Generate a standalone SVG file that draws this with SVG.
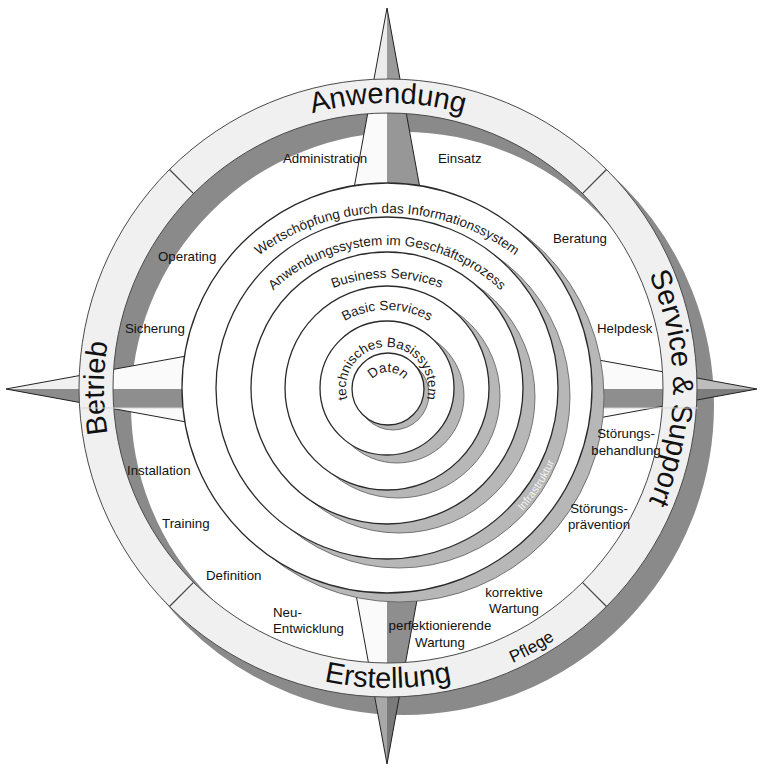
<svg xmlns="http://www.w3.org/2000/svg" width="761" height="768" viewBox="0 0 761 768">
<style>
.lbl{font-family:"Liberation Sans",Arial,sans-serif;font-size:13.3px;fill:#111}
.ring{font-family:"Liberation Sans",Arial,sans-serif;font-size:29px;fill:#111}
.arc{font-family:"Liberation Sans",Arial,sans-serif;font-size:13.5px;fill:#1a1a1a}
.circ{fill:#fff;stroke:#2a2a2a;stroke-width:1.3}
.shd{fill:#b7b7b7;stroke:#5a5a5a;stroke-width:0.8}
.edge{fill:none;stroke:#222;stroke-width:1}
</style>
<defs>
<clipPath id="upper"><rect x="0" y="0" width="761" height="408"/></clipPath>
<clipPath id="outside"><path clip-rule="evenodd" d="M0 0H761V768H0Z M88 388A300 300 0 1 0 688 388A300 300 0 1 0 88 388Z"/></clipPath>
<path id="pAnw" d="M123.95 291.89A279 279 0 0 1 652.05 291.89"/>
<path id="pSvc" d="M484.11 123.95A279 279 0 0 1 484.11 652.05"/>
<path id="pBet" d="M290.9 654.9A284 284 0 0 1 290.9 121.1"/>
<path id="pErs" d="M106.1 490.6A300 300 0 0 0 669.9 490.6"/>
<path id="pPfl" d="M388 690A302 302 0 0 0 644.1 548"/>
<path id="c1" d="M223.1 289.4A214 214 0 0 1 550.9 289.4"/>
<path id="c2" d="M251.8 315.4A165 165 0 0 1 522.2 315.4"/>
<path id="c3" d="M300.4 305.3A151 151 0 0 1 473.6 305.3"/>
<path id="c4" d="M325.5 335.5A87 87 0 0 1 448.5 335.5"/>
<path id="c5" d="M348.5 402A41 41 0 1 1 425.5 402"/>
<path id="c6" d="M368.3 385.8A21 21 0 0 1 407.7 385.8"/>
<path id="cInf" d="M478.5 546.5A183 183 0 0 0 569 407.1"/>
</defs>
<rect width="761" height="768" fill="#fff"/>
<g id="ring-shadow">
<circle cx="404" cy="405" r="291.5" fill="none" stroke="#8a8a8a" stroke-width="37"/>
</g>
<g id="compass">
<g id="arms-inner">
<polygon points="387,8 387,389 317.3,389" fill="#fafafa"/>
<polygon points="387,8 387,389 456.7,389" fill="#979797"/>
<polygon points="387,764 387,389 318.4,389" fill="#fafafa"/>
<polygon points="387,764 387,389 455.6,389" fill="#8e8e8e"/>
<polygon points="6,389 387,389 387,319.3" fill="#fafafa"/>
<polygon points="6,389 387,389 387,458.7" fill="#fafafa"/>
<polygon points="6,389 387,389 387,458.7" fill="#8e8e8e" clip-path="url(#upper)"/>
<polygon points="757,389 387,389 387,321.3" fill="#fafafa"/>
<polygon points="757,389 387,389 387,456.7" fill="#fafafa"/>
<polygon points="757,389 387,389 387,456.7" fill="#8e8e8e" clip-path="url(#upper)"/>
</g>
<g id="arms-outer" clip-path="url(#outside)">
<polygon points="387,8 387,389 317.3,389" fill="#ececec"/>
<polygon points="387,8 387,389 456.7,389" fill="#9a9a9a"/>
<polygon points="387,764 387,389 318.4,389" fill="#a8a8a8"/>
<polygon points="387,764 387,389 455.6,389" fill="#7a7a7a"/>
<polygon points="6,389 387,389 387,319.3" fill="#f0f0f0"/>
<polygon points="6,389 387,389 387,458.7" fill="#8c8c8c" clip-path="url(#upper)"/>
<polygon points="757,389 387,389 387,321.3" fill="#bdbdbd"/>
<polygon points="757,389 387,389 387,456.7" fill="#7d7d7d" clip-path="url(#upper)"/>
</g>
<g id="arm-edges">
<polyline class="edge" points="317.3,389 387,8 456.7,389"/>
<polyline class="edge" points="318.4,389 387,764 455.6,389"/>
<polyline class="edge" points="387,319.3 6,389 387,458.7"/>
<polyline class="edge" points="387,321.3 757,389 387,456.7"/>
</g>
</g>
<g id="outer-ring">
<circle cx="388" cy="388" r="292" fill="none" stroke="#f0f0f0" stroke-width="34"/>
<circle cx="388" cy="388" r="309" fill="none" stroke="#4a4a4a" stroke-width="1"/>
<circle cx="388" cy="388" r="275" fill="none" stroke="#4a4a4a" stroke-width="1"/>
<g stroke="#444" stroke-width="1.2">
<line x1="193.55" y1="193.55" x2="169.5" y2="169.5"/>
<line x1="582.45" y1="193.55" x2="606.5" y2="169.5"/>
<line x1="193.55" y1="582.45" x2="169.5" y2="606.5"/>
<line x1="582.45" y1="582.45" x2="606.5" y2="606.5"/>
</g>
<text class="ring"><textPath href="#pAnw" startOffset="50%" text-anchor="middle">Anwendung</textPath></text>
<text class="ring"><textPath href="#pSvc" startOffset="50%" text-anchor="middle">Service &amp; Support</textPath></text>
<text class="ring"><textPath href="#pBet" startOffset="50%" text-anchor="middle">Betrieb</textPath></text>
<text class="ring"><textPath href="#pErs" startOffset="50%" text-anchor="middle">Erstellung</textPath></text>
<text class="ring" style="font-size:17px"><textPath href="#pPfl" startOffset="50%" text-anchor="middle">Pflege</textPath></text>
</g>
<line x1="82" y1="408" x2="698" y2="408" stroke="#d4d4d4" stroke-width="1"/>
<g id="layers">
<circle class="shd" cx="399" cy="397" r="205"/>
<circle class="circ" cx="387" cy="388" r="205"/>
<circle class="shd" cx="399" cy="397" r="171"/>
<circle class="circ" cx="387" cy="388" r="171"/>
<circle class="shd" cx="399" cy="397" r="136"/>
<circle class="circ" cx="387" cy="388" r="136"/>
<circle class="shd" cx="398" cy="396" r="102"/>
<circle class="circ" cx="387" cy="388" r="102"/>
<circle class="shd" cx="397" cy="396" r="67"/>
<circle class="circ" cx="387" cy="388" r="67"/>
<circle class="shd" cx="393" cy="394" r="36"/>
<circle class="circ" cx="388" cy="389" r="36"/>
<text class="arc"><textPath href="#c1" startOffset="50%" text-anchor="middle">Wertschöpfung durch das Informationssystem</textPath></text>
<text class="arc"><textPath href="#c2" startOffset="50%" text-anchor="middle">Anwendungssystem im Geschäftsprozess</textPath></text>
<text class="arc"><textPath href="#c3" startOffset="50%" text-anchor="middle">Business Services</textPath></text>
<text class="arc"><textPath href="#c4" startOffset="50%" text-anchor="middle">Basic Services</textPath></text>
<text class="arc"><textPath href="#c5" startOffset="50%" text-anchor="middle">technisches Basissystem</textPath></text>
<text class="arc"><textPath href="#c6" startOffset="50%" text-anchor="middle">Daten</textPath></text>
<text class="arc" style="font-size:11px;fill:#f4f4f4"><textPath href="#cInf" startOffset="50%" text-anchor="middle">Infrastruktur</textPath></text>
</g>
<g id="labels" class="lbl">
<text class="lbl" x="283" y="163">Administration</text>
<text class="lbl" x="438" y="163">Einsatz</text>
<text class="lbl" x="553" y="243">Beratung</text>
<text class="lbl" x="597" y="333">Helpdesk</text>
<text class="lbl" x="626" y="438" text-anchor="middle">Störungs-</text>
<text class="lbl" x="626" y="455" text-anchor="middle">behandlung</text>
<text class="lbl" x="599" y="513" text-anchor="middle">Störungs-</text>
<text class="lbl" x="599" y="529" text-anchor="middle">prävention</text>
<text class="lbl" x="514" y="597" text-anchor="middle">korrektive</text>
<text class="lbl" x="514" y="613" text-anchor="middle">Wartung</text>
<text class="lbl" x="440" y="630" text-anchor="middle">perfektionierende</text>
<text class="lbl" x="440" y="647" text-anchor="middle">Wartung</text>
<text class="lbl" x="273" y="617">Neu-</text>
<text class="lbl" x="273" y="633">Entwicklung</text>
<text class="lbl" x="206" y="580">Definition</text>
<text class="lbl" x="162" y="528">Training</text>
<text class="lbl" x="127" y="475">Installation</text>
<text class="lbl" x="125" y="333">Sicherung</text>
<text class="lbl" x="158" y="261">Operating</text>
</g>
</svg>
